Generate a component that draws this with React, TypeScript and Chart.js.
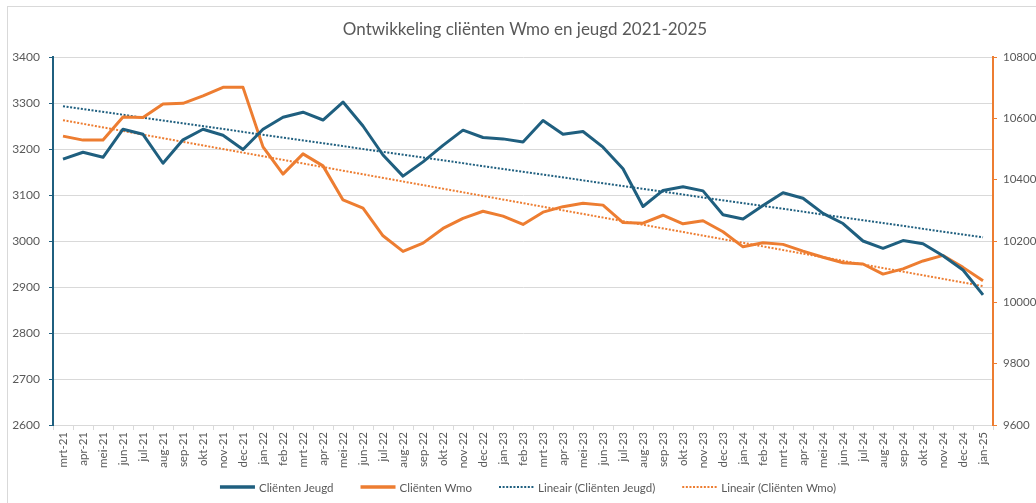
import React, { useEffect, useRef } from "react";
import { Chart, registerables } from "chart.js";

Chart.register(...registerables);

const titleText = "Ontwikkeling cliënten Wmo en jeugd 2021-2025";

const months = [
  "mrt-21", "apr-21", "mei-21", "jun-21", "jul-21", "aug-21", "sep-21", "okt-21", "nov-21", "dec-21",
  "jan-22", "feb-22", "mrt-22", "apr-22", "mei-22", "jun-22", "jul-22", "aug-22", "sep-22", "okt-22", "nov-22", "dec-22",
  "jan-23", "feb-23", "mrt-23", "apr-23", "mei-23", "jun-23", "jul-23", "aug-23", "sep-23", "okt-23", "nov-23", "dec-23",
  "jan-24", "feb-24", "mrt-24", "apr-24", "mei-24", "jun-24", "jul-24", "aug-24", "sep-24", "okt-24", "nov-24", "dec-24",
  "jan-25",
];

const clientenJeugd = [
  3178, 3193, 3182, 3243, 3232, 3169, 3220, 3243, 3230, 3199,
  3243, 3269, 3280, 3263, 3302, 3250, 3187, 3141, 3172, 3208, 3241, 3225,
  3222, 3215, 3262, 3232, 3238, 3204, 3157, 3075, 3110, 3118, 3109, 3057,
  3048, 3077, 3105, 3093, 3060, 3038, 3000, 2984, 3001, 2994, 2968, 2937,
  2883,
];

const clientenWmo = [
  10542, 10529, 10529, 10604, 10603, 10647, 10649, 10673, 10701, 10701,
  10507, 10418, 10484, 10445, 10334, 10307, 10217, 10166, 10193, 10241, 10274, 10297,
  10281, 10254, 10294, 10312, 10323, 10317, 10260, 10258, 10284, 10256, 10266, 10230,
  10181, 10194, 10189, 10167, 10147, 10129, 10125, 10092, 10109, 10135, 10153, 10114,
  10070,
];

// Linear trend lines: values at the first and the last month
const trendJeugdEnds = [3293, 3008];
const trendWmoEnds = [10594, 10053];

const leftMin = 2600;
const leftMax = 3400;
const leftStep = 100;
const rightMin = 9600;
const rightMax = 10800;
const rightStep = 200;

const BLUE = "#1F5F7F";
const ORANGE = "#ED7D31";
const TEXT = "#595959";
const GRID = "#D9D9D9";
const FONT = "Lato, 'Open Sans', sans-serif";

const framePlugin = {
  id: "frame",
  beforeDraw(chart: any) {
    const ctx = chart.ctx;
    ctx.save();
    ctx.fillStyle = "#ffffff";
    ctx.fillRect(0, 0, chart.width, chart.height);
    ctx.strokeStyle = GRID;
    ctx.lineWidth = 1;
    ctx.strokeRect(7.5, 6.5, chart.width + 20, chart.height + 20);
    ctx.restore();
  },
  afterDraw(chart: any) {
    const ctx = chart.ctx;
    const area = chart.chartArea;
    ctx.save();
    // title
    ctx.fillStyle = TEXT;
    ctx.font = `17px ${FONT}`;
    ctx.textAlign = "center";
    ctx.textBaseline = "middle";
    ctx.fillText(titleText, 525, 30);

    // legend
    const items = chart.data.datasets.map((ds: any) => ({
      label: ds.label,
      color: ds.borderColor,
      dash: ds.borderDash || [],
      width: ds.borderDash ? 2 : 3.5,
    }));
    ctx.font = `11.5px ${FONT}`;
    const lineLen = 35;
    const gap = 4;
    const between = 27;
    const widths = items.map((it: any) => lineLen + gap + ctx.measureText(it.label).width);
    const total = widths.reduce((a: number, b: number) => a + b, 0) + between * (items.length - 1);
    let x = (area.left + area.right) / 2 + 5 - total / 2;
    const y = 487;
    ctx.textAlign = "left";
    items.forEach((it: any, i: number) => {
      ctx.beginPath();
      ctx.strokeStyle = it.color;
      ctx.lineWidth = it.width;
      ctx.setLineDash(it.dash);
      ctx.moveTo(x, y);
      ctx.lineTo(x + lineLen, y);
      ctx.stroke();
      ctx.setLineDash([]);
      ctx.fillStyle = TEXT;
      ctx.fillText(it.label, x + lineLen + gap, y + 1);
      x += widths[i] + between;
    });
    ctx.restore();
  },
};

const plain = (v: any) => String(v);

export default function App() {
  const canvasRef = useRef<HTMLCanvasElement | null>(null);

  useEffect(() => {
    if (!canvasRef.current) return;
    const last = months[months.length - 1];
    const chart = new Chart(canvasRef.current, {
      type: "line",
      data: {
        labels: months,
        datasets: [
          {
            label: "Cliënten Jeugd",
            data: clientenJeugd,
            borderColor: BLUE,
            backgroundColor: BLUE,
            borderWidth: 3,
            pointRadius: 0,
            tension: 0,
            borderJoinStyle: "round",
            yAxisID: "y",
          },
          {
            label: "Cliënten Wmo",
            data: clientenWmo,
            borderColor: ORANGE,
            backgroundColor: ORANGE,
            borderWidth: 3,
            pointRadius: 0,
            tension: 0,
            borderJoinStyle: "round",
            yAxisID: "y1",
          },
          {
            label: "Lineair (Cliënten Jeugd)",
            data: [
              { x: months[0], y: trendJeugdEnds[0] },
              { x: last, y: trendJeugdEnds[1] },
            ] as any,
            borderColor: BLUE,
            backgroundColor: BLUE,
            borderWidth: 2,
            borderDash: [2, 1.6],
            pointRadius: 0,
            yAxisID: "y",
          },
          {
            label: "Lineair (Cliënten Wmo)",
            data: [
              { x: months[0], y: trendWmoEnds[0] },
              { x: last, y: trendWmoEnds[1] },
            ] as any,
            borderColor: ORANGE,
            backgroundColor: ORANGE,
            borderWidth: 2,
            borderDash: [2, 1.6],
            pointRadius: 0,
            yAxisID: "y1",
          },
        ],
      },
      options: {
        responsive: false,
        animation: false,
        devicePixelRatio: 1,
        layout: { padding: { top: 57, left: 0, right: 0, bottom: 0 } },
        plugins: {
          legend: { display: false },
          title: { display: false },
          tooltip: { enabled: false },
        },
        scales: {
          x: {
            type: "category",
            offset: true,
            grid: {
              offset: true,
              drawOnChartArea: false,
              drawTicks: true,
              tickLength: 5,
              tickColor: GRID,
            },
            border: { display: true, color: GRID, width: 1 },
            ticks: {
              autoSkip: false,
              maxRotation: 90,
              minRotation: 90,
              padding: 2,
              color: TEXT,
              font: { family: FONT, size: 11.5 },
            },
            afterFit: (s: any) => {
              s.height = 78;
            },
          },
          y: {
            position: "left",
            min: leftMin,
            max: leftMax,
            ticks: {
              stepSize: leftStep,
              padding: 9,
              color: TEXT,
              font: { family: FONT, size: 12 },
              callback: plain,
            },
            grid: { color: GRID, tickColor: BLUE, tickLength: 4 },
            border: { color: BLUE, width: 2 },
            afterFit: (s: any) => {
              s.width = 53;
            },
          },
          y1: {
            position: "right",
            min: rightMin,
            max: rightMax,
            ticks: {
              stepSize: rightStep,
              padding: 6,
              color: TEXT,
              font: { family: FONT, size: 11.5 },
              callback: plain,
            },
            grid: { drawOnChartArea: false, tickColor: ORANGE, tickLength: 4 },
            border: { color: ORANGE, width: 2 },
            afterFit: (s: any) => {
              s.width = 43;
            },
          },
        },
      },
      plugins: [framePlugin],
    });
    return () => chart.destroy();
  }, []);

  return (
    <div style={{ position: "absolute", left: 0, top: 0, width: 1036, height: 503, background: "#fff" }}>
      <canvas ref={canvasRef} width={1036} height={503} style={{ display: "block", width: 1036, height: 503 }} />
    </div>
  );
}
